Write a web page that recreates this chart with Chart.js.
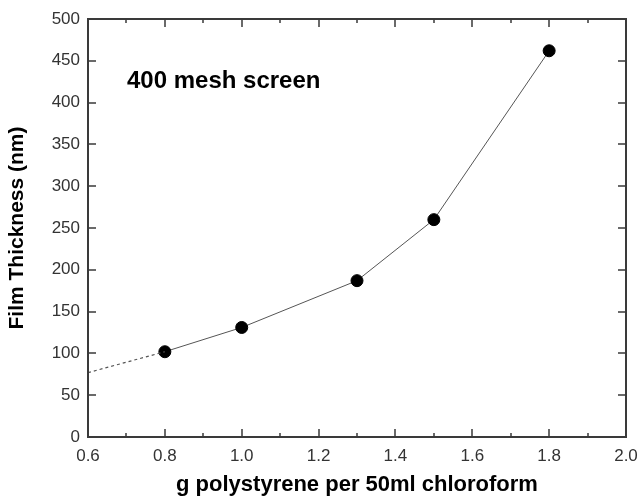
<!DOCTYPE html>
<html>
<head>
<meta charset="utf-8">
<script src="https://cdn.jsdelivr.net/npm/chart.js@4/dist/chart.umd.min.js"></script>
<style>
	html, body { margin: 0; padding: 0; background: #fff; }
	#wrap { width: 640px; height: 499px; }
</style>
</head>
<body>
<div id="wrap"><canvas id="thicknessChart"></canvas></div>
<script>
// measured points
const concentration = [0.8, 1.0, 1.3, 1.5, 1.8];
const thickness = [102, 131, 187, 260, 462];
// dashed extrapolation toward 0.6
const extrapX = [0.6, 0.8];
const extrapY = [77, 102];

const xTicks = [0.6, 0.8, 1.0, 1.2, 1.4, 1.6, 1.8, 2.0];
const yTicks = [0, 50, 100, 150, 200, 250, 300, 350, 400, 450, 500];

const axisColor = "#3a3a3a";
const fontFamily = "'Liberation Sans', Arial, sans-serif";

// frame + inward tick marks, Origin style
const frameTicks = {
	id: "frameTicks",
	afterDraw(chart) {
		const { ctx, chartArea: a, scales } = chart;
		const x = scales.x, y = scales.y;
		ctx.save();
		ctx.strokeStyle = axisColor;
		ctx.lineWidth = 2;
		ctx.strokeRect(a.left, a.top, a.right - a.left, a.bottom - a.top);
		ctx.lineWidth = 1.5;
		ctx.beginPath();
		for (let i = 7; i <= 19; i++) {
			const px = Math.round(x.getPixelForValue(i / 10));
			const len = i % 2 === 0 ? 8 : 4;
			ctx.moveTo(px, a.bottom);
			ctx.lineTo(px, a.bottom - len);
			ctx.moveTo(px, a.top);
			ctx.lineTo(px, a.top + len);
		}
		yTicks.forEach((v) => {
			if (v === 0 || v === 500) return;
			const py = Math.round(y.getPixelForValue(v));
			ctx.moveTo(a.left, py);
			ctx.lineTo(a.left + 8, py);
			ctx.moveTo(a.right, py);
			ctx.lineTo(a.right - 8, py);
		});
		ctx.stroke();

		ctx.fillStyle = "#000";
		ctx.font = "bold 24px " + fontFamily;
		ctx.textBaseline = "middle";
		ctx.fillText("400 mesh screen", 127, 81);
		ctx.restore();
	},
};

const ctx = document.getElementById("thicknessChart").getContext("2d");

new Chart(ctx, {
	type: "scatter",
	data: {
		datasets: [
			{
				data: extrapX.map((v, i) => ({ x: v, y: extrapY[i] })),
				showLine: true,
				borderColor: "#555",
				borderWidth: 1.2,
				borderDash: [3, 3],
				pointRadius: 0,
			},
			{
				data: concentration.map((v, i) => ({ x: v, y: thickness[i] })),
				showLine: true,
				borderColor: "#555",
				borderWidth: 1,
				pointRadius: 6,
				pointBackgroundColor: "#000",
				pointBorderColor: "#000",
			},
		],
	},
	options: {
		responsive: true,
		maintainAspectRatio: false,
		animation: false,
		layout: { padding: { left: 5, top: 19, right: 14, bottom: 0 } },
		plugins: {
			legend: { display: false },
			tooltip: { enabled: false },
		},
		scales: {
			x: {
				type: "linear",
				min: 0.6,
				max: 2.0,
				afterBuildTicks: (s) => { s.ticks = xTicks.map((v) => ({ value: v })); },
				afterFit: (s) => {
					s.height = 62;
					s.paddingLeft = 0;
					s.paddingRight = 0;
				},
				grid: { display: false, drawTicks: false },
				border: { display: false },
				ticks: {
					color: "#333",
					padding: 9,
					font: { size: 17, family: fontFamily },
					callback: (v) => v.toFixed(1),
				},
				title: {
					display: true,
					text: "g polystyrene per 50ml chloroform",
					color: "#000",
					padding: { top: 0, bottom: 1 },
					font: { size: 22, weight: "bold", family: fontFamily },
				},
			},
			y: {
				type: "linear",
				min: 0,
				max: 500,
				afterBuildTicks: (s) => { s.ticks = yTicks.map((v) => ({ value: v })); },
				afterFit: (s) => {
					s.width = 83;
					s.paddingTop = 0;
					s.paddingBottom = 0;
				},
				grid: { display: false, drawTicks: false },
				border: { display: false },
				ticks: {
					color: "#333",
					padding: 8,
					font: { size: 17, family: fontFamily },
				},
				title: {
					display: true,
					text: "Film Thickness (nm)",
					color: "#000",
					padding: { top: 0, bottom: 0 },
					font: { size: 21, weight: "bold", family: fontFamily },
				},
			},
		},
	},
	plugins: [frameTicks],
});
</script>
</body>
</html>
